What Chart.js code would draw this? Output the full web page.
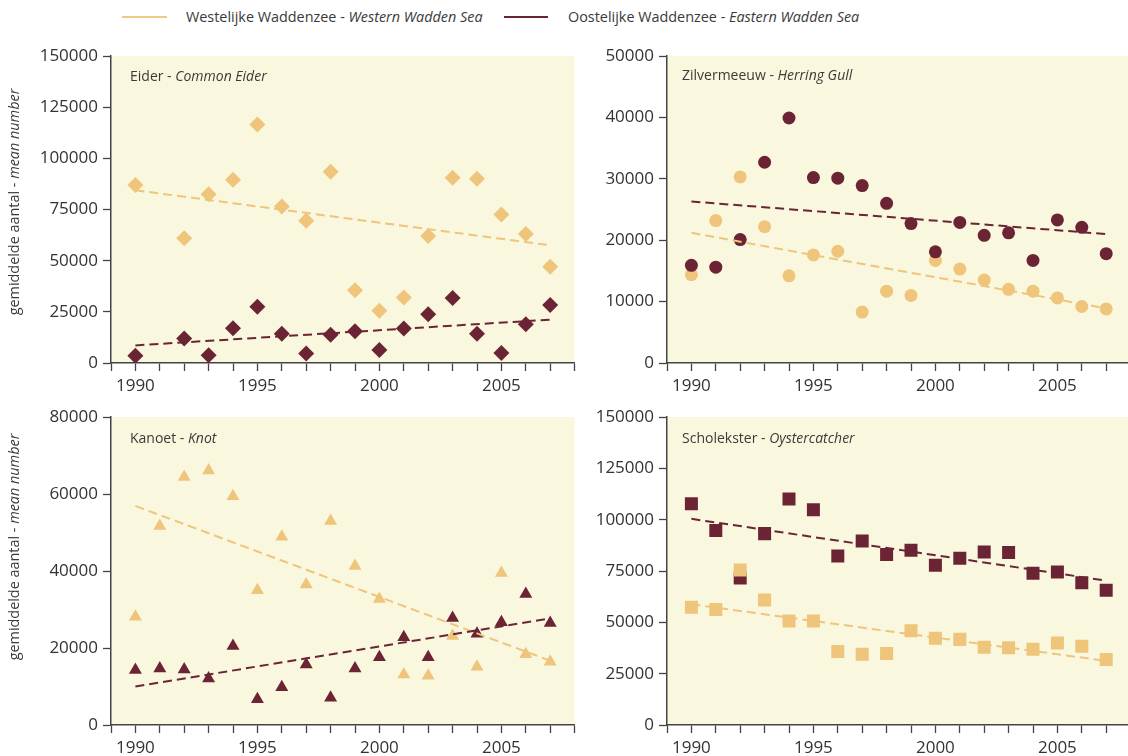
<!DOCTYPE html>
<html>
<head>
<meta charset="utf-8">
<script src="https://cdn.jsdelivr.net/npm/chart.js@4"></script>
<style>
  html, body { margin: 0; padding: 0; width: 1128px; height: 756px; overflow: hidden; background: #ffffff; }
  body { position: relative; font-family: "Open Sans", sans-serif; color: #3a3a3a; }
  canvas { position: absolute; left: 0; top: 0; }
  .swatch { position: absolute; height: 2px; }
  .legend-text { position: absolute; font-size: 14.4px; line-height: 20px; white-space: nowrap; }
  .ytitle { position: absolute; font-size: 14.4px; line-height: 18px; white-space: nowrap;
            transform: translate(-50%, -50%) rotate(-90deg); transform-origin: center; }
  .ptitle { position: absolute; font-size: 14px; line-height: 20px; white-space: nowrap; }
  i { font-style: italic; }
</style>
</head>
<body>

<div class="swatch" style="left:122px; top:16px; width:45px; background:#EFC987;"></div>
<div class="legend-text" style="left:186px; top:7px;">Westelijke Waddenzee - <i>Western Wadden Sea</i></div>
<div class="swatch" style="left:504px; top:16px; width:44px; background:#6B2434;"></div>
<div class="legend-text" style="left:568px; top:7px;">Oostelijke Waddenzee - <i>Eastern Wadden Sea</i></div>

<canvas id="eider" width="1140" height="756"></canvas>
<canvas id="gull" width="1140" height="756"></canvas>
<canvas id="knot" width="1140" height="756"></canvas>
<canvas id="oyster" width="1140" height="756"></canvas>

<div class="ytitle" style="left:14px; top:202px;">gemiddelde aantal - <i>mean number</i></div>
<div class="ytitle" style="left:14px; top:547px;">gemiddelde aantal - <i>mean number</i></div>

<div class="ptitle" style="left:130px; top:66px;">Eider - <i>Common Eider</i></div>
<div class="ptitle" style="left:682px; top:65px;">Zilvermeeuw - <i>Herring Gull</i></div>
<div class="ptitle" style="left:130px; top:428px;">Kanoet - <i>Knot</i></div>
<div class="ptitle" style="left:682px; top:428px;">Scholekster - <i>Oystercatcher</i></div>

<script>
// ---- data: mean numbers per year, Western and Eastern Wadden Sea ----
const years = [1990, 1991, 1992, 1993, 1994, 1995, 1996, 1997, 1998, 1999,
               2000, 2001, 2002, 2003, 2004, 2005, 2006, 2007];
const trendYears = [1990, 2007];

const eiderWest = [87000, null, 61000, 82500, 89500, 116500, 76500, 69500, 93500, 35500,
                   25500, 32000, 62000, 90500, 90000, 72500, 63000, 47000];
const eiderEast = [3500, null, 12000, 3800, 17000, 27500, 14300, 4700, 13800, 15500,
                   6400, 16900, 23800, 31800, 14300, 4900, 18900, 28300];
const eiderWestTrend = [84400, 57500];
const eiderEastTrend = [8600, 21200];

const gullWest = [14400, 23200, 30300, 22200, 14200, 17600, 18200, 8300, 11700, 11000,
                  16700, 15300, 13500, 12000, 11700, 10600, 9200, 8800];
const gullEast = [15900, 15600, 20100, 32700, 39900, 30200, 30100, 28900, 26000, 22700,
                  18100, 22900, 20800, 21200, 16700, 23300, 22100, 17800];
const gullWestTrend = [21200, 8900];
const gullEastTrend = [26300, 21000];

const knotWest = [28100, 51700, 64400, 66100, 59400, 35000, 48900, 36500, 53000, 41300,
                  32700, 13100, 12800, 23100, 15100, 39500, 18400, 16400];
const knotEast = [14300, 14700, 14400, 12100, 20500, 6700, 9800, 15700, 7100, 14700,
                  17600, 22800, 17600, 27800, 23700, 26700, 34000, 26500];
const knotWestTrend = [56900, 16700];
const knotEastTrend = [10000, 27700];

const oysterWest = [57400, 56300, 75500, 60900, 50600, 50600, 35800, 34500, 34800, 45900,
                    42300, 41700, 37900, 37600, 36900, 39900, 38400, 31900];
const oysterEast = [107700, 94700, 71600, 93200, 110100, 104800, 82300, 89600, 83000, 85100,
                    77800, 81200, 84300, 84000, 73900, 74500, 69300, 65600];
const oysterWestTrend = [58800, 31200];
const oysterEastTrend = [100400, 70300];

const xTicksMin = 1989;
const xTicksMax = 2008;

// ---- styling ----
const LIGHT = '#EEC57B';
const DARK = '#6B2434';
const PANEL_BG = '#FAF7DF';
const AXIS = '#444444';
const TEXT = '#333333';
const FONT = '"Open Sans", sans-serif';
const CW = 1140, CH = 756;
const Y_W = 80, X_H = 40;

const panelBackground = {
  id: 'panelBackground',
  beforeDraw(chart) {
    const a = chart.chartArea, ctx = chart.ctx;
    ctx.save();
    ctx.fillStyle = PANEL_BG;
    ctx.fillRect(a.left, a.top, a.right - a.left, a.bottom - a.top);
    ctx.restore();
  }
};

function toPoints(xs, ys) {
  return xs.map((x, i) => ({ x: x, y: ys[i] })).filter(p => p.y !== null);
}

function makePanel(id, area, yMax, yStep, west, east, westTrend, eastTrend, shape, radius, westOnTop) {
  const pointSet = (label, vals, color, order) => ({
    label, data: toPoints(years, vals), order,
    pointStyle: shape, pointRadius: radius, pointHoverRadius: radius,
    pointBackgroundColor: color, pointBorderWidth: 0, showLine: false
  });
  const trendSet = (label, vals, color) => ({
    label, data: toPoints(trendYears, vals), order: 0,
    showLine: true, borderColor: color, borderWidth: 2, borderDash: [9, 5],
    pointRadius: 0, pointHoverRadius: 0, fill: false
  });
  const gridOpts = { display: true, drawOnChartArea: false, drawTicks: true,
                     tickLength: 8, tickColor: AXIS, tickWidth: 1.3 };
  const borderOpts = { display: true, color: AXIS, width: 1.5 };

  return new Chart(document.getElementById(id), {
    type: 'scatter',
    data: {
      datasets: [
        trendSet('Oostelijke trend', eastTrend, DARK),
        trendSet('Westelijke trend', westTrend, LIGHT),
        pointSet('Oostelijke Waddenzee', east, DARK, westOnTop ? 2 : 1),
        pointSet('Westelijke Waddenzee', west, LIGHT, westOnTop ? 1 : 2)
      ]
    },
    options: {
      responsive: false, animation: false, devicePixelRatio: 1, events: [],
      layout: { padding: { left: area.left - Y_W, top: area.top,
                           right: CW - area.right, bottom: CH - area.bottom - X_H } },
      plugins: { legend: { display: false }, tooltip: { enabled: false } },
      scales: {
        x: {
          type: 'linear', min: xTicksMin, max: xTicksMax,
          afterFit: s => { s.height = X_H; },
          grid: gridOpts, border: borderOpts,
          ticks: { stepSize: 1, autoSkip: false, maxRotation: 0, padding: 5,
                   color: TEXT, font: { family: FONT, size: 17 },
                   callback: v => (v % 5 === 0 ? String(v) : '') }
        },
        y: {
          min: 0, max: yMax,
          afterFit: s => { s.width = Y_W; },
          grid: gridOpts, border: borderOpts,
          ticks: { stepSize: yStep, padding: 5, color: TEXT,
                   font: { family: FONT, size: 17 },
                   callback: v => String(v) }
        }
      }
    },
    plugins: [panelBackground]
  });
}

const leftCol = { left: 111, right: 574.6 };
const rightCol = { left: 667, right: 1130.6 };

makePanel('eider', { ...leftCol, top: 56, bottom: 363 }, 150000, 25000,
          eiderWest, eiderEast, eiderWestTrend, eiderEastTrend, 'rectRot', 8, false);
makePanel('gull', { ...rightCol, top: 56, bottom: 363 }, 50000, 10000,
          gullWest, gullEast, gullWestTrend, gullEastTrend, 'circle', 6.5, false);
makePanel('knot', { ...leftCol, top: 417, bottom: 725 }, 80000, 20000,
          knotWest, knotEast, knotWestTrend, knotEastTrend, 'triangle', 7.5, false);
makePanel('oyster', { ...rightCol, top: 417, bottom: 725 }, 150000, 25000,
          oysterWest, oysterEast, oysterWestTrend, oysterEastTrend, 'rect', 9.2, true);
</script>
</body>
</html>
